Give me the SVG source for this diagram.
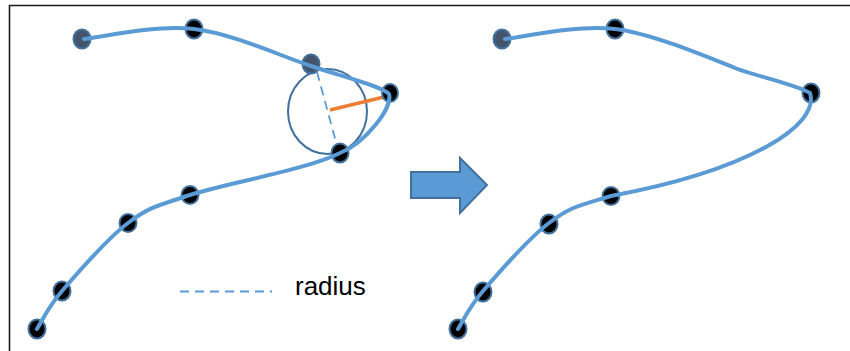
<svg xmlns="http://www.w3.org/2000/svg" width="850" height="351" viewBox="0 0 850 351">
<style>
.curve{fill:none;stroke:#5b9bd5;stroke-width:4;stroke-linecap:round;stroke-linejoin:round}
.dot{fill:#000;stroke:#41719c;stroke-width:2}
.dot.s{fill:#44546a}
.dash{fill:none;stroke:#5b9bd5;stroke-width:1.8;stroke-dasharray:9 6}
.frame{fill:none;stroke:#1a1a1a;stroke-width:1.6}
.lbl{font-family:"Liberation Sans",Arial,sans-serif;font-size:26px;fill:#000}
</style>
<rect width="850" height="351" fill="#fff"/>
<path class="frame" d="M9.5,351 V5.5 H850"/>

<g id="circle-fit">
  <ellipse cx="327.5" cy="111.5" rx="39.5" ry="42.5" fill="none" stroke="#41719c" stroke-width="2"/>
  <line class="dash" x1="317" y1="72" x2="336" y2="142"/>
  <line x1="330" y1="110" x2="388" y2="96" stroke="#ed7d31" stroke-width="3.5"/>
</g>

<g id="left-points">
  <ellipse id="L1" class="dot s" cx="82" cy="39" rx="8.5" ry="9.5"/>
  <ellipse id="L2" class="dot" cx="194" cy="29" rx="8.5" ry="9.5"/>
  <ellipse id="L3" class="dot s" cx="311" cy="64" rx="8.5" ry="9.5"/>
  <ellipse id="L4" class="dot" cx="390" cy="93" rx="8" ry="9"/>
  <ellipse id="L5" class="dot" cx="340" cy="153" rx="8.5" ry="9.5"/>
  <ellipse id="L6" class="dot" cx="190" cy="195" rx="8.5" ry="9"/>
  <ellipse id="L7" class="dot" cx="128" cy="223" rx="8.5" ry="9"/>
  <ellipse id="L8" class="dot" cx="62" cy="291" rx="8.5" ry="9.5"/>
  <ellipse id="L9" class="dot" cx="37" cy="329" rx="8.5" ry="9.5"/>
</g>

<g id="right-points">
  <ellipse id="R1" class="dot s" cx="502" cy="39" rx="8.5" ry="9.5"/>
  <ellipse id="R2" class="dot" cx="615" cy="29" rx="8.5" ry="9.5"/>
  <ellipse id="R3" class="dot" cx="811" cy="93" rx="8.5" ry="9.5"/>
  <ellipse id="R4" class="dot" cx="611" cy="196" rx="8.5" ry="9"/>
  <ellipse id="R5" class="dot" cx="549" cy="224" rx="8.5" ry="9.5"/>
  <ellipse id="R6" class="dot" cx="483" cy="292" rx="8.5" ry="9.5"/>
  <ellipse id="R7" class="dot" cx="458" cy="329" rx="8.5" ry="9.5"/>
</g>

<g id="connectors">
  <path class="curve" d="M84,39 C100.7,37.3 155.8,24.5 194,29 C232.2,33.5 278.5,55.2 311,66 C340,76 382,86 389,94 C393,108 365,143 340,153 C306.8,169.8 225.3,183.3 190,195 C154.7,206.7 149.3,207 128,223 C106.7,239 77.2,273.3 62,291 C46.8,308.7 41.2,322.7 37,329"/>
  <path class="curve" d="M505,39 C521.7,37.3 576.8,24.5 615,29 C650,33 705,56 735,68 C752,75 795,84 810,93 C820,125 750,170 611,196 C575.7,206.7 570.3,207 549,223 C527.7,239 498.2,273.3 483,291 C467.8,308.7 462.2,322.7 458,329"/>
</g>

<g id="arrow">
  <path d="M411,172 H460 V158 L487,185 L460,213 V198 H411 Z" fill="#5b9bd5" stroke="#41719c" stroke-width="2"/>
</g>

<g id="legend">
  <line class="dash" x1="180" y1="291.5" x2="272" y2="291.5"/>
  <text class="lbl" x="295" y="295">radius</text>
</g>
</svg>
